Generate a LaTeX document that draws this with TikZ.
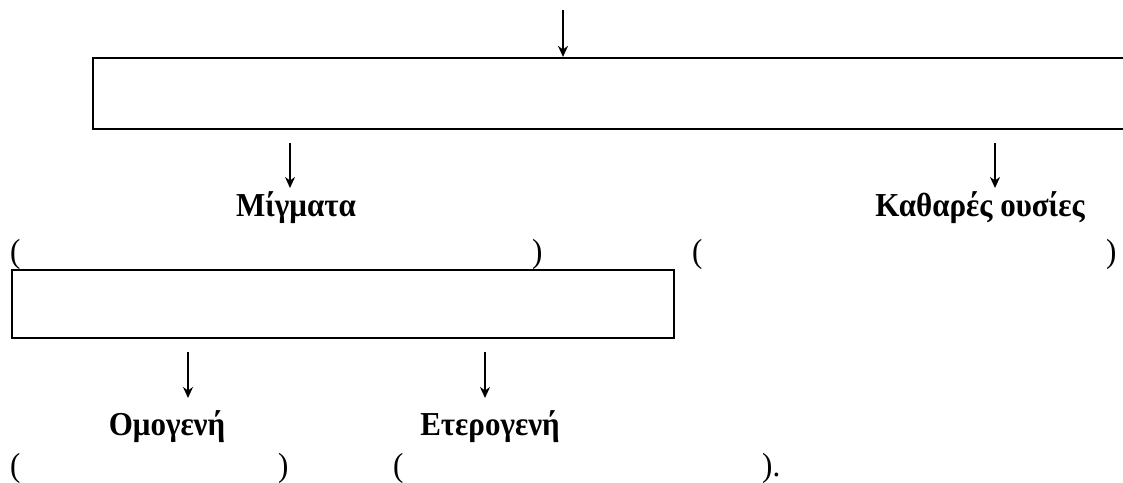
\documentclass[tikz,border=0pt]{standalone}
\usepackage{fontspec}
\setmainfont{Liberation Serif}
\usetikzlibrary{arrows.meta}
\newcommand\tallglyphs[1]{\scalebox{1}[1.08]{#1}}

\begin{document}
\begin{tikzpicture}[x=1pt,y=-1pt,
  frame/.style={draw, line width=2.2pt, inner sep=0pt},
  term/.style={font=\fontsize{31}{36}\selectfont\bfseries, anchor=base, inner sep=0pt},
  paren/.style={font=\fontsize{31}{36}\selectfont, anchor=base west, inner sep=0pt},
  down/.style={line width=1.4pt, -{Stealth[length=11pt,width=10pt,inset=3.5pt]}}]
\clip (0,0) rectangle (1123,482);

% upper classification box (runs past the right margin)
\node[frame, minimum width=1037pt, minimum height=71pt] (matter) at (611.5,93.5) {};
\coordinate (in) at (563,10);
\draw[down] (in) -- (in |- matter.north);

% first split
\coordinate (mixS) at (290,143);
\coordinate (mixE) at (290,188);
\coordinate (pureS) at (995,143);
\coordinate (pureE) at (995,188);
\draw[down] (mixS) -- (mixE);
\draw[down] (pureS) -- (pureE);

\node[term] (mix) at (296,216) {\tallglyphs{Μίγματα}};
\node[term] (pure) at (980,216) {\tallglyphs{Καθαρές ουσίες}};

\node[paren] (p1) at (10,262) {\tallglyphs{(}};
\node[paren] (p2) at (532,262) {\tallglyphs{)}};
\node[paren] (p3) at (692,262) {\tallglyphs{(}};
\node[paren] (p4) at (1106,262) {\tallglyphs{)}};

% mixtures box
\node[frame, minimum width=662pt, minimum height=68pt] (mixbox) at (343,304) {};

% second split
\coordinate (homS) at (188,352);
\coordinate (homE) at (188,398);
\coordinate (hetS) at (485,352);
\coordinate (hetE) at (485,398);
\draw[down] (homS) -- (homE);
\draw[down] (hetS) -- (hetE);

\node[term] (hom) at (167,435) {\tallglyphs{Ομογενή}};
\node[term] (het) at (490,435) {\tallglyphs{Ετερογενή}};

\node[paren] (q1) at (10,476) {\tallglyphs{(}};
\node[paren] (q2) at (278,476) {\tallglyphs{)}};
\node[paren] (q3) at (393,476) {\tallglyphs{(}};
\node[paren] (q4) at (762,476) {\tallglyphs{).}};
\end{tikzpicture}
\end{document}
